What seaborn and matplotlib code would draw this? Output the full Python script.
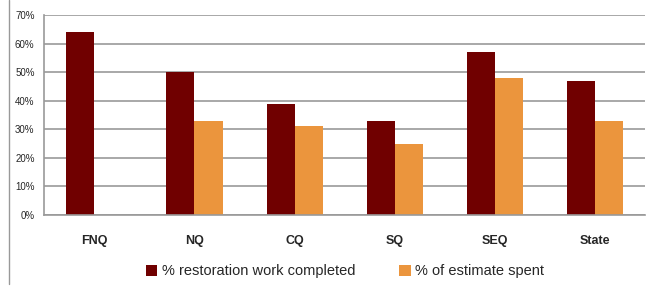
import numpy as np
import pandas as pd
import seaborn as sns
import matplotlib.pyplot as plt
from matplotlib.ticker import PercentFormatter, FixedLocator

regions = ["FNQ", "NQ", "CQ", "SQ", "SEQ", "State"]
work_completed = [64, 50, 39, 33, 57, 47]
estimate_spent = [np.nan, 33, 31, 25, 48, 33]
series = ["% restoration work completed", "% of estimate spent"]

df = pd.DataFrame({
    "region": regions * 2,
    "value": work_completed + estimate_spent,
    "series": [series[0]] * len(regions) + [series[1]] * len(regions),
})

sns.set_style("white")
plt.rcParams["font.family"] = ["Liberation Sans", "DejaVu Sans"]

fig = plt.figure(figsize=(6.61, 2.93), dpi=100)
ax = fig.add_axes([0.067, 0.266, 0.909, 0.683])

sns.barplot(data=df, x="region", y="value", hue="series",
            palette=["#700000", "#EB953D"], width=0.56, gap=0,
            saturation=1, edgecolor="none", ax=ax)

ax.set_ylim(0, 70)
ax.set_xlim(-0.5, len(regions) - 0.5)
ax.set_yticks(range(0, 71, 10))
ax.yaxis.set_major_formatter(PercentFormatter(decimals=0))
ax.grid(axis="y", color="#999999", linewidth=1.2)
ax.set_axisbelow(True)
ax.set_xlabel("")
ax.set_ylabel("")

for s in ["top", "right"]:
    ax.spines[s].set_visible(False)
ax.spines["left"].set_color("#999999")
ax.spines["bottom"].set_color("#999999")
ax.spines["left"].set_linewidth(1.2)
ax.spines["bottom"].set_linewidth(1.2)

ax.tick_params(axis="y", labelsize=7, length=4, color="#999999", pad=3)
ax.tick_params(axis="x", which="major", length=0, labelsize=9, pad=14)
ax.xaxis.set_minor_locator(FixedLocator(np.arange(-0.5, len(regions), 1.0)))
ax.tick_params(axis="x", which="minor", length=4, color="#999999", direction="out")
for lbl in ax.get_xticklabels():
    lbl.set_fontweight("bold")

ax.legend(loc="upper center", bbox_to_anchor=(0.5, -0.18), ncol=2,
          frameon=False, fontsize=10.5, handlelength=0.8, handleheight=0.8,
          handletextpad=0.3, columnspacing=3)

# outer frame line on the left
fig.add_artist(plt.Line2D([0.014, 0.014], [0.03, 1.0], color="#999999", linewidth=1))

fig.savefig("out.png", dpi=100)
